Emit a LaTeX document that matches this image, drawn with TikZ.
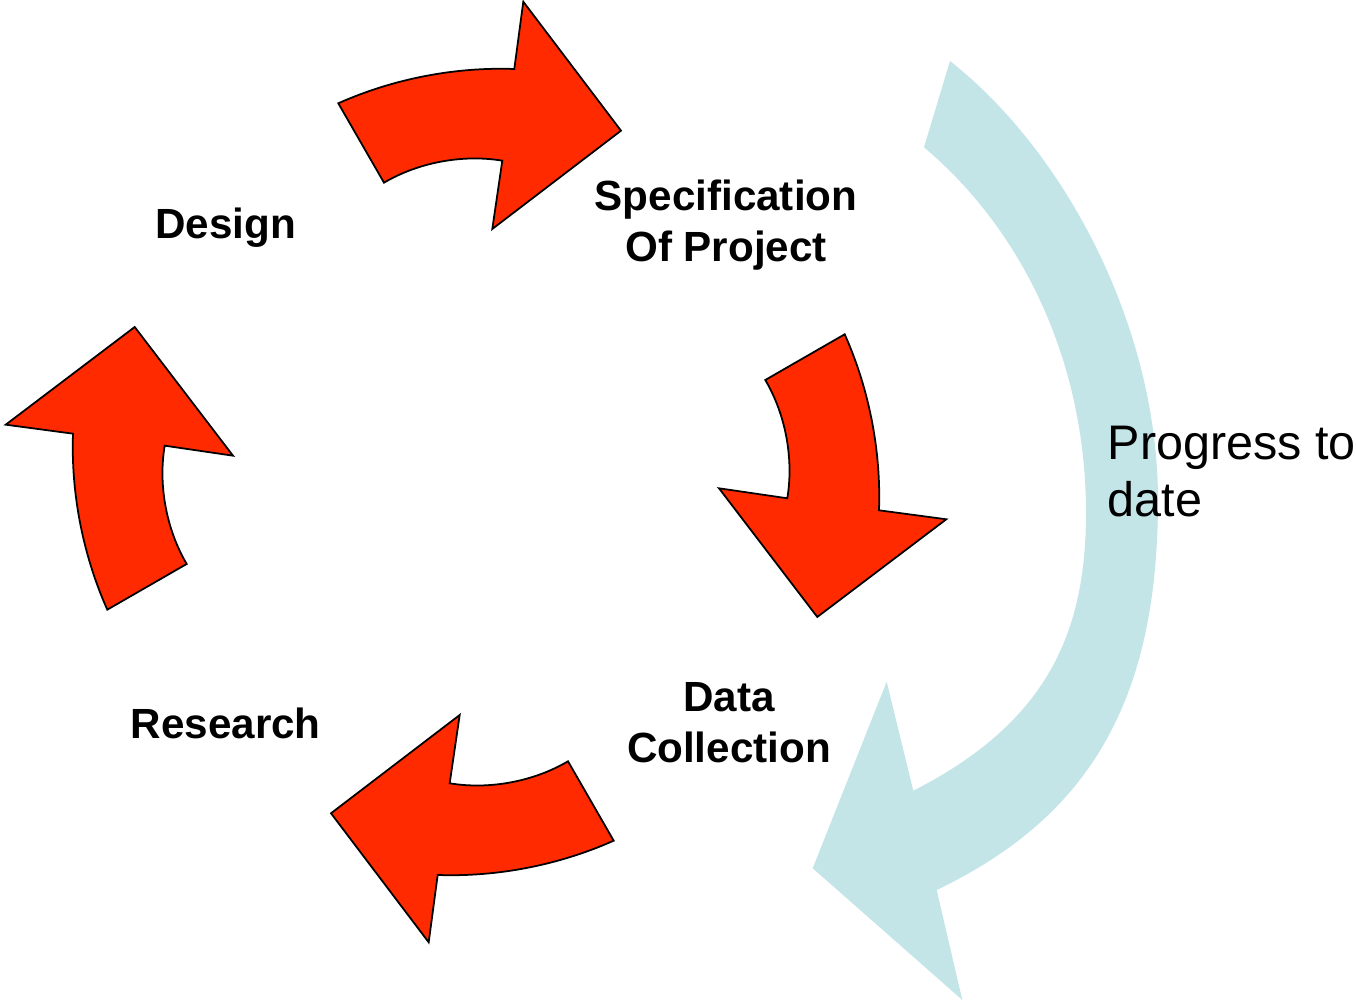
\documentclass[tikz,border=0pt]{standalone}
\usepackage{fontspec}
\setmainfont{Liberation Sans}
\usepackage{tikz}
\definecolor{cycred}{RGB}{255,42,0}
\definecolor{progblue}{RGB}{196,229,232}

\begin{document}
\begin{tikzpicture}[x=0.01cm, y=-0.01cm,
  cyc/.style = {draw=black, line width=0.5pt, fill=cycred},
  lbl/.style = {font=\bfseries\fontsize{12}{14.5}\selectfont, align=center, inner sep=0pt},
  prog/.style = {font=\fontsize{13.8}{16.2}\selectfont, align=left, inner sep=0pt}]
\useasboundingbox (0,0) rectangle (1356,1001);
\fill[progblue] (924,147.3) -- (950,61)
  .. controls (1067.8,154) and (1158,330) .. (1158,500)
  .. controls (1158,700) and (1090,816.6) .. (936.7,890)
  -- (962.3,1000) -- (812.7,868.3) -- (886.7,681.7) -- (913.3,790.7)
  .. controls (1047,722.6) and (1086,633) .. (1086,513)
  .. controls (1086,363) and (1023.5,231.2) .. (924,147.3) -- cycle;
\foreach \a in {0,-90,-180,-270}
  \draw[cyc, shift={(476,472)}, rotate=\a] (-137.7,-368.7) .. controls (-82.9,-393.1) and (-21.6,-405.1) .. (38.3,-403) -- (47.3,-470.3) -- (145,-341.3) -- (16.3,-243) -- (26.3,-311.3) .. controls (-13.2,-317.9) and (-57.6,-309.6) .. (-92,-289.3) -- cycle;
\node[lbl, anchor=base] (design) at (225.5,239) {Design};
\node[lbl] (spec) at (726,225) {Specification\\Of Project};
\node[lbl] (data) at (729,722.5) {Data\\Collection};
\node[lbl, anchor=base] (research) at (225.8,738.3) {Research};
\node[prog, anchor=north west] (progress) at (1107,425.3) {Progress to\\date};
\end{tikzpicture}
\end{document}
